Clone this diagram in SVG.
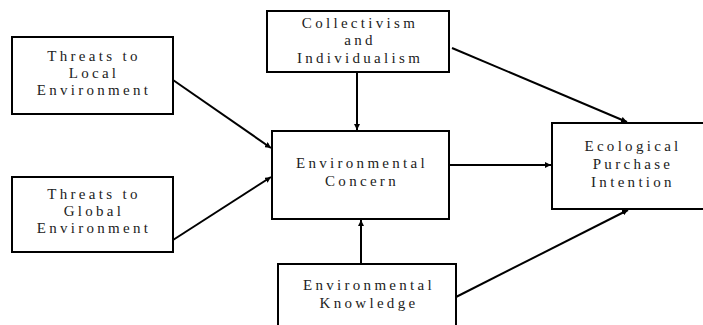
<svg xmlns="http://www.w3.org/2000/svg" width="703" height="325" viewBox="0 0 703 325">
<style>
.box{fill:#fff;stroke:#000;stroke-width:2}
.t{font-family:"Liberation Serif","Times New Roman",serif;font-size:15px;letter-spacing:3.3px;fill:#222;text-anchor:middle}
.c{stroke:#000;stroke-width:2;fill:none;marker-end:url(#ah)}
</style>
<defs>
<marker id="ah" viewBox="0 0 10 10" refX="10" refY="5" markerWidth="6" markerHeight="6" markerUnits="userSpaceOnUse" orient="auto">
<path d="M0,0 L10,5 L0,10 z" fill="#000"/>
</marker>
</defs>
<rect width="703" height="325" fill="#fff"/>
<g id="connectors">
<line class="c" x1="173" y1="80" x2="271" y2="148"/>
<line class="c" x1="173" y1="240" x2="271" y2="177"/>
<line class="c" x1="357" y1="72" x2="357" y2="130"/>
<line class="c" x1="361" y1="264" x2="361" y2="220"/>
<line class="c" x1="449" y1="165" x2="551" y2="165"/>
<line class="c" x1="452" y1="48" x2="627" y2="122"/>
<line class="c" x1="456" y1="297" x2="628" y2="210"/>
</g>
<g id="local">
<rect class="box" x="12" y="37" width="161" height="77"/>
<text class="t" x="94" y="61">Threats to</text>
<text class="t" x="94" y="78">Local</text>
<text class="t" x="94" y="95">Environment</text>
</g>
<g id="global">
<rect class="box" x="12" y="177" width="161" height="75"/>
<text class="t" x="94" y="199">Threats to</text>
<text class="t" x="94" y="216">Global</text>
<text class="t" x="94" y="233">Environment</text>
</g>
<g id="collectivism">
<rect class="box" x="267" y="11" width="182" height="61"/>
<text class="t" x="360" y="28">Collectivism</text>
<text class="t" x="360" y="45">and</text>
<text class="t" x="360" y="63">Individualism</text>
</g>
<g id="concern">
<rect class="box" x="272" y="131" width="177" height="88"/>
<text class="t" x="362" y="168">Environmental</text>
<text class="t" x="362" y="186">Concern</text>
</g>
<g id="knowledge">
<rect class="box" x="278" y="264" width="178" height="70"/>
<text class="t" x="369" y="290">Environmental</text>
<text class="t" x="369" y="308">Knowledge</text>
</g>
<g id="intention">
<rect class="box" x="552" y="123" width="155" height="86"/>
<text class="t" x="633" y="151">Ecological</text>
<text class="t" x="633" y="169">Purchase</text>
<text class="t" x="633" y="187">Intention</text>
</g>
</svg>
